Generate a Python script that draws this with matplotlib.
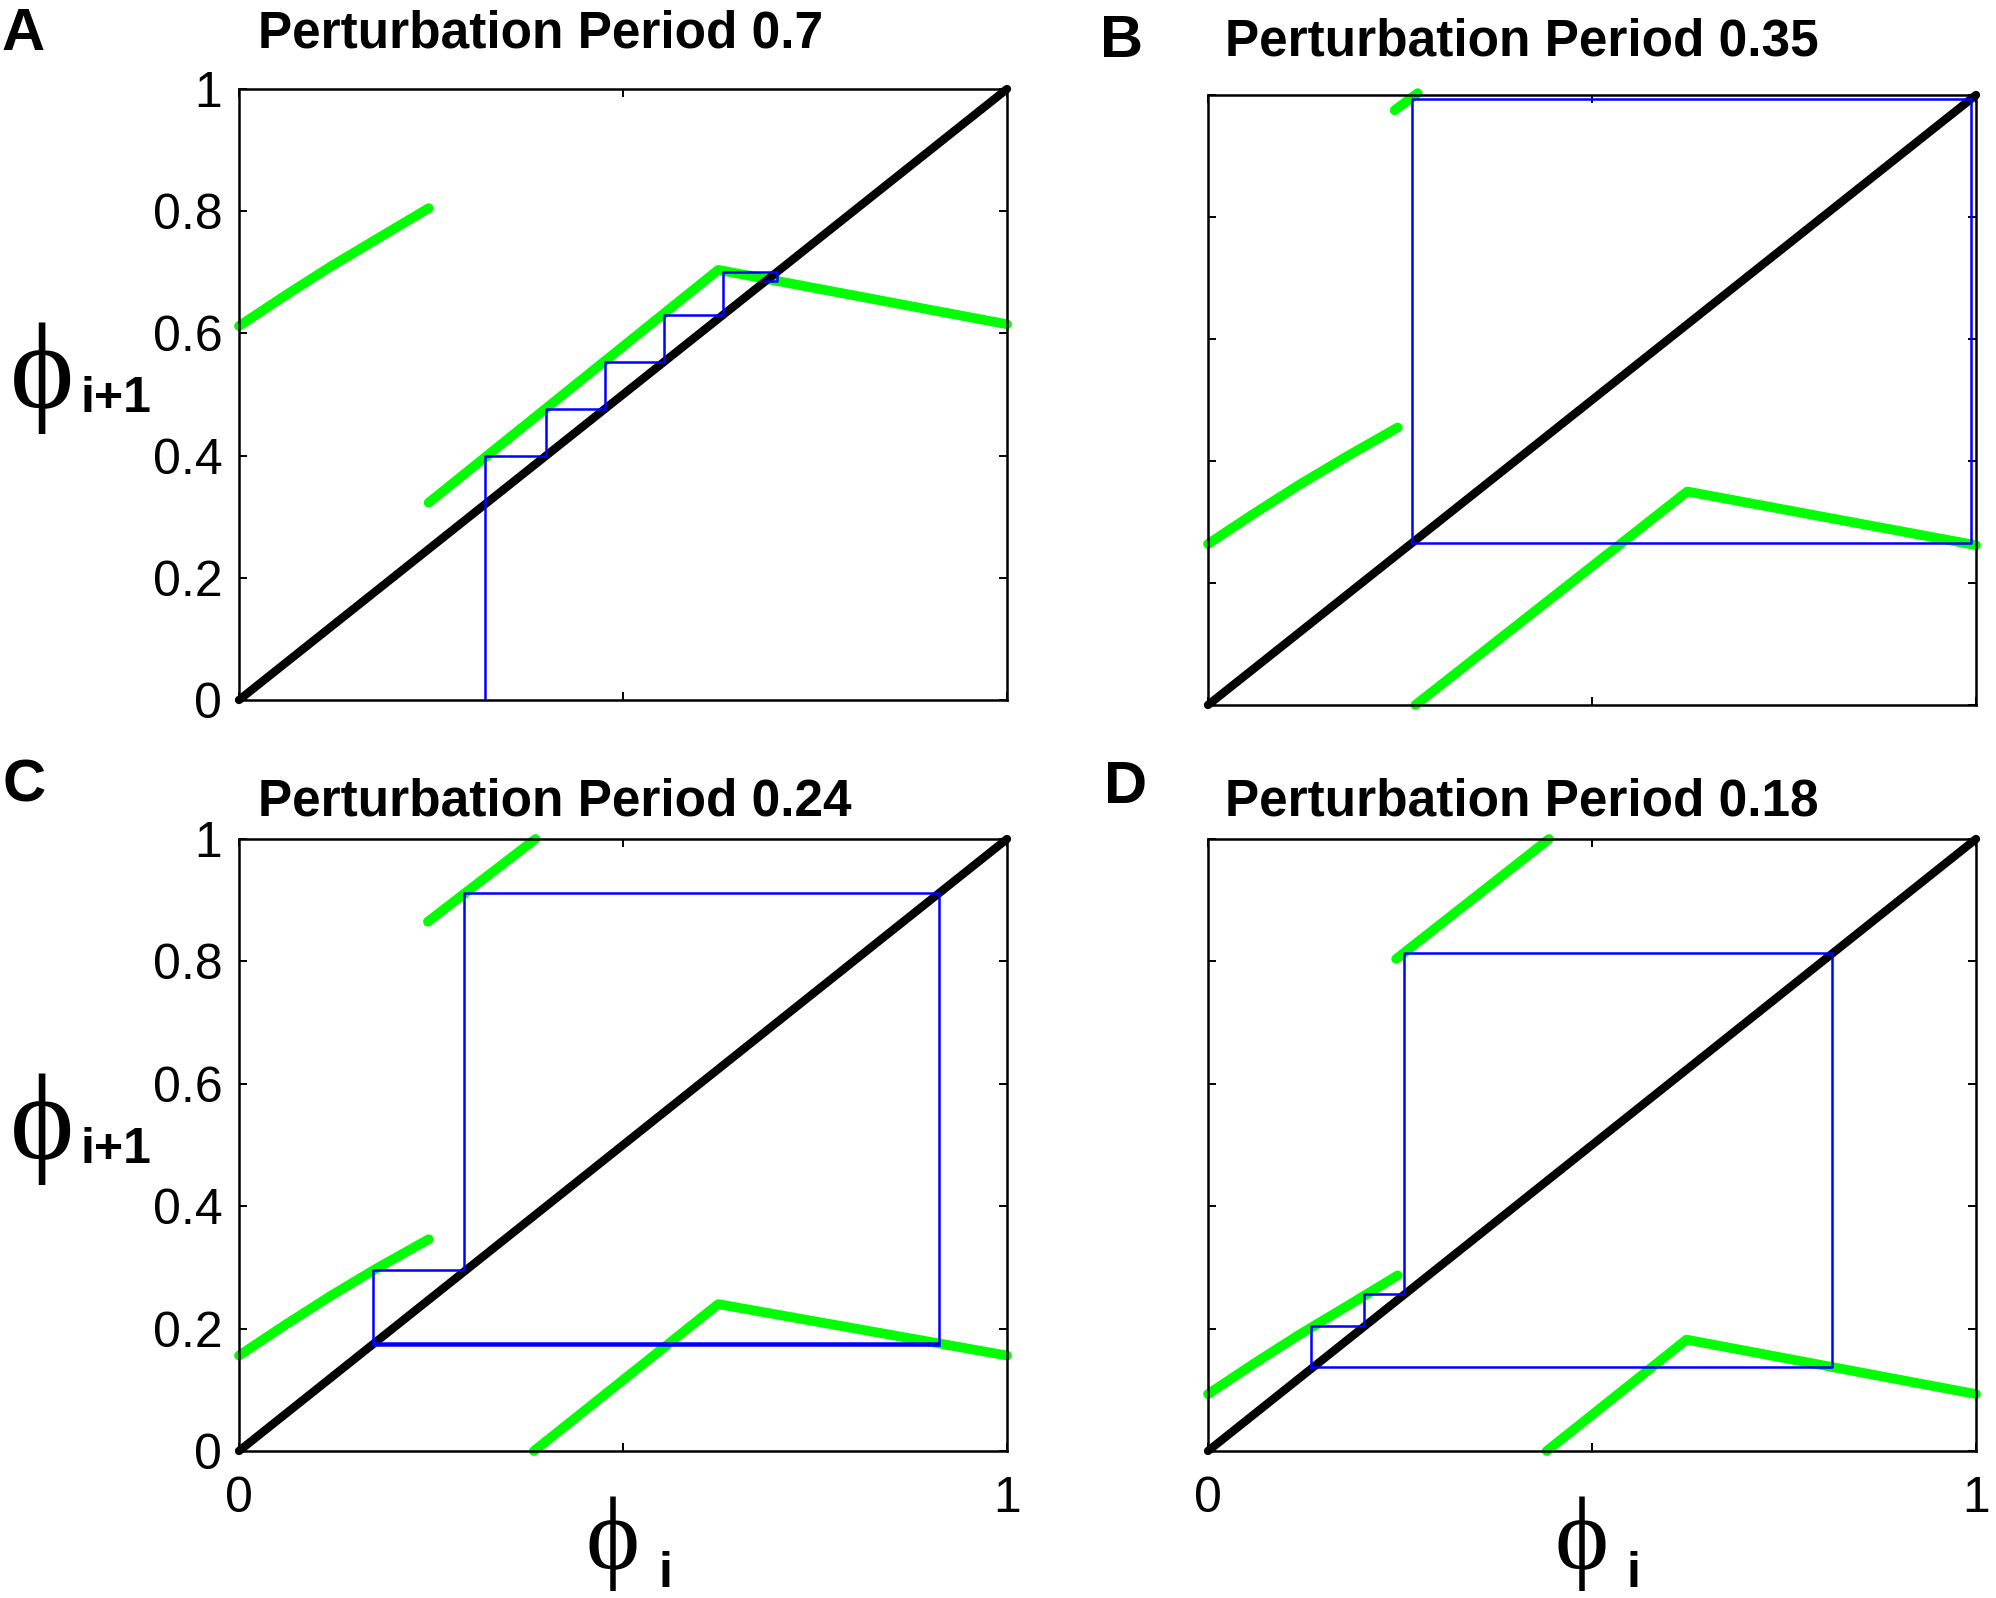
import numpy as np
import matplotlib
matplotlib.use('Agg')
import matplotlib.pyplot as plt

plt.rcParams['font.family'] = ['Liberation Sans', 'DejaVu Sans']

# panel titles / letters
periods = ['0.7', '0.35', '0.24', '0.18']
letters = ['A', 'B', 'C', 'D']

# green map pieces
seg1_x = [0.0, 0.06, 0.12, 0.18, 0.247]

a_g1_y = [0.612, 0.662, 0.710, 0.755, 0.805]
a_g2_x = [0.247, 0.624, 1.0]
a_g2_y = [0.323, 0.704, 0.615]

b_g1_y = [0.264, 0.314, 0.362, 0.407, 0.455]
b_g2_x = [0.243, 0.273]
b_g2_y = [0.975, 1.003]
b_g3_x = [0.270, 0.624, 1.0]
b_g3_y = [0.0, 0.350, 0.262]

c_g1_y = [0.156, 0.206, 0.254, 0.299, 0.346]
c_g2_x = [0.246, 0.386]
c_g2_y = [0.865, 1.0]
c_g3_x = [0.384, 0.624, 1.0]
c_g3_y = [0.0, 0.240, 0.156]

d_g1_y = [0.093, 0.143, 0.191, 0.236, 0.287]
d_g2_x = [0.245, 0.444]
d_g2_y = [0.804, 1.0]
d_g3_x = [0.441, 0.623, 1.0]
d_g3_y = [0.0, 0.182, 0.093]

# blue cobweb iterates
a_blue_x = [0.32, 0.32, 0.40, 0.40, 0.476, 0.476, 0.553, 0.553, 0.63, 0.63, 0.70, 0.70, 0.685]
a_blue_y = [0.0, 0.40, 0.40, 0.476, 0.476, 0.553, 0.553, 0.63, 0.63, 0.70, 0.70, 0.685, 0.685]

b_blue_x = [0.265, 0.265, 0.993, 0.993, 0.265]
b_blue_y = [0.265, 0.993, 0.993, 0.265, 0.265]

c_blue_x = [0.174, 0.174, 0.293, 0.293, 0.912, 0.912, 0.174, 0.174, 0.912]
c_blue_y = [0.176, 0.295, 0.295, 0.911, 0.911, 0.176, 0.176, 0.1735, 0.1735]

d_blue_x = [0.134, 0.134, 0.203, 0.203, 0.255, 0.255, 0.813, 0.813, 0.134]
d_blue_y = [0.138, 0.204, 0.204, 0.256, 0.256, 0.813, 0.813, 0.138, 0.138]

yticks = [0, 0.2, 0.4, 0.6, 0.8, 1]
ytlabs = ['0', '0.2', '0.4', '0.6', '0.8', '1']
xticks = [0, 0.5, 1]
xtlabs = ['0', '', '1']

W, H = 1996, 1598
GREEN = '#00ff00'


def px_rect(left, top, w, h):
    return [left / W, 1 - (top + h) / H, w / W, h / H]


def setup_ax(ax, ylab, xlab):
    ax.set_xlim(0, 1)
    ax.set_ylim(0, 1)
    ax.set_xticks(xticks)
    ax.set_yticks(yticks)
    ax.set_xticklabels(xtlabs if xlab else [''] * 3)
    ax.set_yticklabels(ytlabs if ylab else [''] * 6)
    ax.tick_params(direction='in', length=6, width=1.4, top=True, right=True,
                   labelsize=36)
    ax.tick_params(axis='y', pad=12)
    ax.tick_params(axis='x', pad=18)
    for sp in ax.spines.values():
        sp.set_linewidth(1.8)


def draw_panel(ax, greens, bx, by):
    for gx, gy in greens:
        ax.plot(gx, gy, color=GREEN, lw=7, solid_capstyle='round',
                solid_joinstyle='round', clip_on=False, zorder=2)
    ax.plot([0, 1], [0, 1], color='black', lw=6, solid_capstyle='round', clip_on=False, zorder=3)
    ax.plot(bx, by, color='#0000ff', lw=1.8, zorder=4)


fig = plt.figure(figsize=(W / 100, H / 100), dpi=100)

axA = fig.add_axes(px_rect(239, 89, 768, 611))
axB = fig.add_axes(px_rect(1208, 95, 768, 610))
axC = fig.add_axes(px_rect(239, 839, 768, 612))
axD = fig.add_axes(px_rect(1208, 839, 768, 612))

draw_panel(axA, [(seg1_x, a_g1_y), (a_g2_x, a_g2_y)], a_blue_x, a_blue_y)
draw_panel(axB, [(seg1_x, b_g1_y), (b_g2_x, b_g2_y), (b_g3_x, b_g3_y)], b_blue_x, b_blue_y)
draw_panel(axC, [(seg1_x, c_g1_y), (c_g2_x, c_g2_y), (c_g3_x, c_g3_y)], c_blue_x, c_blue_y)
draw_panel(axD, [(seg1_x, d_g1_y), (d_g2_x, d_g2_y), (d_g3_x, d_g3_y)], d_blue_x, d_blue_y)

setup_ax(axA, True, False)
setup_ax(axB, False, False)
setup_ax(axC, True, True)
setup_ax(axD, False, True)

# titles and panel letters (pixel positions)
title_pos = [(258, 47), (1225, 56), (258, 815), (1225, 815)]
letter_pos = [(23, 50), (1122, 57), (24, 801), (1126, 803)]
for per, (tx, ty) in zip(periods, title_pos):
    fig.text(tx / W, 1 - ty / H, 'Perturbation Period ' + per, fontsize=37,
             fontweight='bold', ha='left', va='baseline')
for let, (lx, ly) in zip(letters, letter_pos):
    fig.text(lx / W, 1 - ly / H, let, fontsize=43, fontweight='bold',
             ha='center', va='baseline')

phi = '\u03d5'
serif = ['Liberation Serif', 'DejaVu Serif']
# y labels
for cy in (378, 1129):
    fig.text(42 / W, 1 - cy / H, phi, fontsize=88, family=serif, ha='center', va='center')
    fig.text(80 / W, 1 - (cy + 34) / H, 'i+1', fontsize=36, fontweight='bold',
             ha='left', va='baseline')
# x labels
for cx in (613, 1582):
    fig.text(cx / W, 1 - 1544 / H, phi, fontsize=74, family=serif, ha='center', va='center')
    fig.text((cx + 45) / W, 1 - 1587 / H, 'i', fontsize=36, fontweight='bold',
             ha='left', va='baseline')

fig.savefig('out.png', dpi=100)
